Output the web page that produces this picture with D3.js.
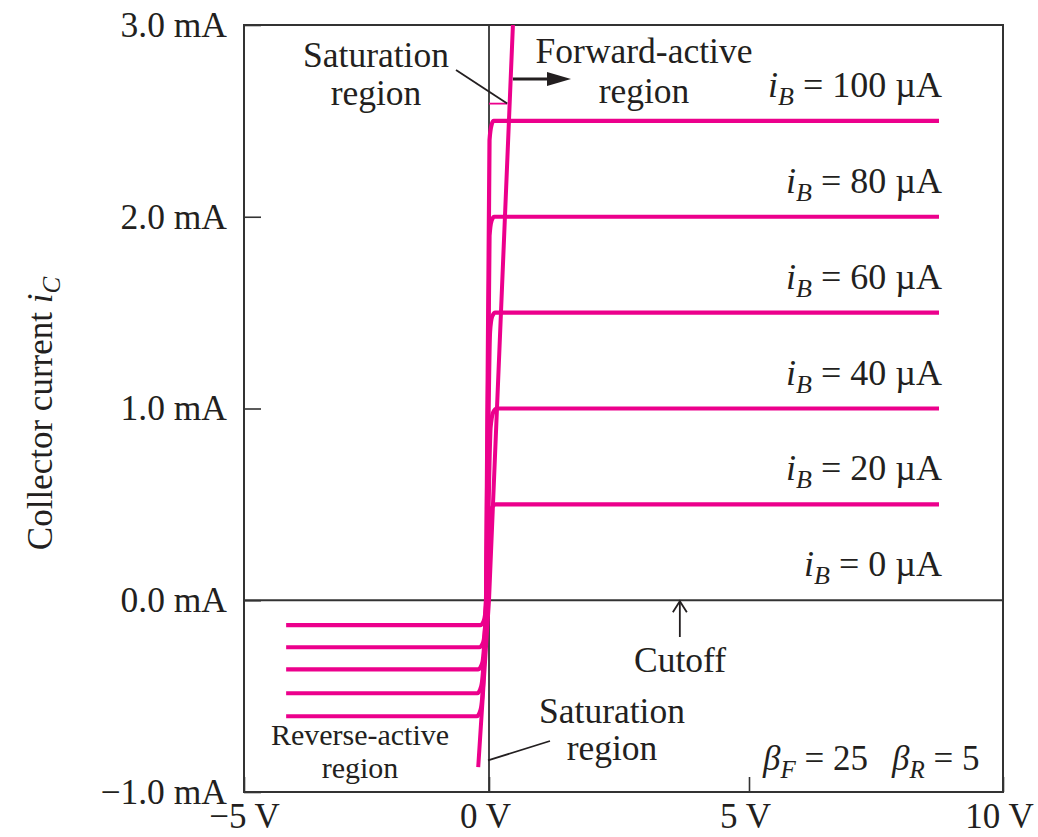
<!DOCTYPE html>
<html>
<head>
<meta charset="utf-8">
<script src="https://cdn.jsdelivr.net/npm/d3@7"></script>
<style>
  html, body { margin: 0; padding: 0; background: #fff; }
  svg { display: block; }
</style>
</head>
<body>
<svg id="chart"></svg>
<script>
// axis ticks
const vceTicks = [-5, 0, 5, 10];
const vceTickLabels = ['\u22125 V', '0 V', '5 V', '10 V'];
const icTicks = [-1, 0, 1, 2, 3];
const icTickLabels = ['\u22121.0 mA', '0.0 mA', '1.0 mA', '2.0 mA', '3.0 mA'];

// base current of each curve (µA) and its forward-active level (mA)
const ibValues = [0, 20, 40, 60, 80, 100];
const ibLevels = [0, 0.5, 1.0, 1.5, 2.0, 2.5];

// output curves: [vCE (V), iC (mA)]
const curve20 = [[-4.14, -0.13], [-0.18, -0.13], [-0.11, -0.11], [-0.05, 0.0], [0.02, 0.42], [0.07, 0.49], [0.13, 0.5], [8.74, 0.5]];
const curve40 = [[-4.14, -0.245], [-0.2, -0.245], [-0.12, -0.22], [-0.05, 0.0], [0.03, 0.9], [0.08, 0.98], [0.15, 1.0], [8.74, 1.0]];
const curve60 = [[-4.14, -0.36], [-0.22, -0.36], [-0.14, -0.33], [-0.06, 0.0], [0.02, 1.4], [0.06, 1.48], [0.12, 1.5], [8.74, 1.5]];
const curve80 = [[-4.14, -0.485], [-0.24, -0.485], [-0.16, -0.45], [-0.06, 0.0], [0.01, 1.9], [0.05, 1.98], [0.1, 2.0], [8.74, 2.0]];
const curve100 = [[-4.14, -0.605], [-0.25, -0.605], [-0.17, -0.57], [-0.06, 0.0], [0.01, 2.4], [0.05, 2.48], [0.09, 2.5], [8.74, 2.5]];
const curves = [curve20, curve40, curve60, curve80, curve100];

// steep saturation boundary and the little marker under the label
const saturationLine = [[-0.22, -0.87], [0, 0], [0.46, 3.0]];
const saturationMark = [[0, 2.59], [0.35, 2.59]];

const W = 1038, H = 837;
const INK = '#231f20', MAGENTA = '#ec008c';
const FONT = '"Liberation Serif", "Times New Roman", serif';

const svg = d3.select('#chart').attr('width', W).attr('height', H)
    .attr('font-family', FONT).attr('fill', INK);

// the horizontal axis is a bit uneven in the print, so pin each tick
const x = d3.scaleLinear().domain([-5, 0, 5, 10]).range([244, 489, 749, 1003]);
const y = d3.scaleLinear().domain([-1, 3]).range([792, 25]);

// axes (ticks point inwards)
const gx = svg.append('g').attr('transform', `translate(0,${y(-1)})`)
    .call(d3.axisBottom(x).tickValues(vceTicks).tickSize(-15).tickPadding(11)
        .tickFormat((d, i) => vceTickLabels[i]));
const gy = svg.append('g').attr('transform', `translate(${x(-5)},0)`)
    .call(d3.axisLeft(y).tickValues(icTicks).tickSize(-17).tickPadding(17)
        .tickFormat((d, i) => icTickLabels[i]));
[gx, gy].forEach(g => {
    g.select('.domain').remove();
    g.attr('font-family', FONT).style('color', INK);
    g.selectAll('line').attr('stroke', '#333').attr('stroke-width', 1.6);
});
gx.attr('font-size', 35);
gy.attr('font-size', 35.5);
gx.selectAll('text').attr('dx', (d, i) => i === 0 ? 0 : -4);

// frame, zero current line, zero voltage line
svg.append('rect')
    .attr('x', x(-5)).attr('y', y(3))
    .attr('width', x(10) - x(-5)).attr('height', y(-1) - y(3))
    .attr('fill', 'none').attr('stroke', '#333').attr('stroke-width', 2);
svg.append('line')
    .attr('x1', x(-5)).attr('x2', x(10)).attr('y1', y(0)).attr('y2', y(0))
    .attr('stroke', '#333').attr('stroke-width', 1.8);
svg.append('line')
    .attr('x1', x(0)).attr('x2', x(0)).attr('y1', y(3)).attr('y2', y(-1))
    .attr('stroke', '#333').attr('stroke-width', 1.8);

// curves
const line = d3.line().x(d => x(d[0])).y(d => y(d[1])).curve(d3.curveMonotoneX);
svg.append('g').selectAll('path').data(curves).enter().append('path')
    .attr('d', line)
    .attr('fill', 'none').attr('stroke', MAGENTA).attr('stroke-width', 4.2)
    .attr('stroke-linejoin', 'round');
svg.append('path').attr('d', d3.line().x(d => x(d[0])).y(d => y(d[1]))(saturationLine))
    .attr('fill', 'none').attr('stroke', MAGENTA).attr('stroke-width', 4);
svg.append('path').attr('d', d3.line().x(d => x(d[0])).y(d => y(d[1]))(saturationMark))
    .attr('fill', 'none').attr('stroke', MAGENTA).attr('stroke-width', 1.8);

// i_B labels above each curve
const ibText = svg.append('g').selectAll('text').data(ibValues).enter().append('text')
    .attr('x', 942).attr('y', (d, i) => y(ibLevels[i]) - 24)
    .attr('text-anchor', 'end').attr('font-size', 36);
ibText.append('tspan').attr('font-style', 'italic').text('i');
ibText.append('tspan').attr('font-style', 'italic').attr('font-size', 26).attr('dy', 8).text('B');
ibText.append('tspan').attr('dy', -8).text(d => ' = ' + d + ' \u00b5A');

// region labels
function label(lines, cx, baselines, size) {
    lines.forEach((t, i) => {
        svg.append('text').attr('x', cx).attr('y', baselines[i])
            .attr('text-anchor', 'middle').attr('font-size', size).text(t);
    });
}
label(['Saturation', 'region'], 376, [67, 105], 35.5);
label(['Forward-active', 'region'], 644, [63, 103], 35.5);
label(['Saturation', 'region'], 612, [723, 760], 35.5);
label(['Reverse-active', 'region'], 360, [745, 778], 30);
label(['Cutoff'], 680, [672], 35.5);

// pointers
const pointer = svg.append('g').attr('stroke', INK).attr('stroke-width', 1.8).attr('fill', 'none');
pointer.append('line').attr('x1', 456).attr('y1', 70).attr('x2', x(0.35)).attr('y2', y(2.59));
pointer.append('line').attr('x1', 550).attr('y1', 741).attr('x2', x(-0.02)).attr('y2', y(-0.835));
// forward-active arrow
pointer.append('line').attr('x1', x(0.46)).attr('y1', 79).attr('x2', 552).attr('y2', 79).attr('stroke-width', 3);
svg.append('path').attr('d', 'M547,72 L571,79 L547,86 Z').attr('fill', INK);
// cutoff arrow
pointer.append('line').attr('x1', x(3.67)).attr('y1', 637).attr('x2', x(3.67)).attr('y2', y(0) + 1);
pointer.append('path')
    .attr('d', `M${x(3.67) - 7},${y(0) + 12} L${x(3.67)},${y(0) + 1} L${x(3.67) + 7},${y(0) + 12}`);

// y-axis title
const yTitle = svg.append('text')
    .attr('transform', `translate(52,${(y(3) + y(-1)) / 2 + 5}) rotate(-90)`)
    .attr('text-anchor', 'middle').attr('font-size', 35);
yTitle.append('tspan').text('Collector current ');
yTitle.append('tspan').attr('font-style', 'italic').text('i');
yTitle.append('tspan').attr('font-style', 'italic').attr('font-size', 25).attr('dy', 8).text('C');

// betas
const beta = svg.append('text').attr('x', 763).attr('y', 770).attr('font-size', 35);
beta.append('tspan').attr('font-style', 'italic').text('\u03b2');
beta.append('tspan').attr('font-style', 'italic').attr('font-size', 25).attr('dy', 8).text('F');
beta.append('tspan').attr('dy', -8).text(' = 25');
beta.append('tspan').attr('dx', 24).attr('font-style', 'italic').text('\u03b2');
beta.append('tspan').attr('font-style', 'italic').attr('font-size', 25).attr('dy', 8).text('R');
beta.append('tspan').attr('dy', -8).text(' = 5');
</script>
</body>
</html>
